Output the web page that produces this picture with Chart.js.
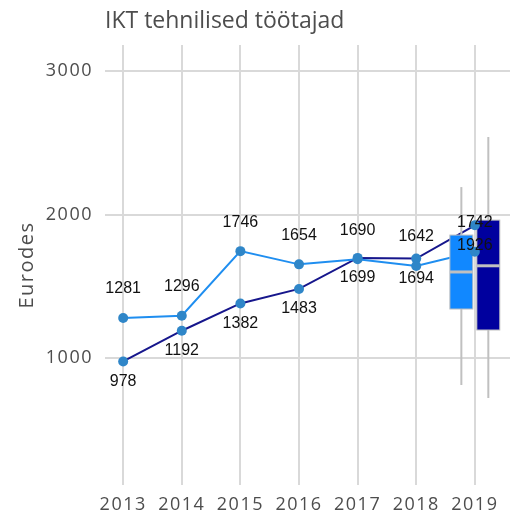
<!DOCTYPE html>
<html>
<head>
<meta charset="utf-8">
<script src="https://cdn.jsdelivr.net/npm/chart.js@4.4.1/dist/chart.umd.min.js"></script>
<style>
html,body{margin:0;padding:0;background:#fff;}
canvas{display:block;}
</style>
</head>
<body>
<canvas id="c" width="510" height="517"></canvas>
<script>
const chartTitle = 'IKT tehnilised töötajad';
const yAxisTitle = 'Eurodes';
const years = [2013, 2014, 2015, 2016, 2017, 2018, 2019];
const lightValues = [1281, 1296, 1746, 1654, 1690, 1642, 1742];
const darkValues = [978, 1192, 1382, 1483, 1699, 1694, 1926];
const yTickValues = [1000, 2000, 3000];
const boxYear = 2019;
// [min, q1, median, q3, max]
const lightBox = [814, 1343, 1601, 1858, 2192];
const darkBox = [724, 1197, 1644, 1962, 2540];

const LIGHT_LINE = '#1f8ef0';
const DARK_LINE = '#16168c';
const POINT_COLOR = '#2f86c8';
const LIGHT_BOX = '#1188ff';
const DARK_BOX = '#00009e';
const GREY = '#c0c0c0';
const GRID = '#d9d9d9';
const TEXT = '#4d4d4d';
const FONT = "'Open Sans', sans-serif";

const toXY = (vals) => years.map((y, i) => ({x: y, y: vals[i]}));

const spacingPlugin = {
  id: 'spacing',
  beforeDraw(chart) { chart.ctx.letterSpacing = '1.5px'; },
  afterDraw(chart) { chart.ctx.letterSpacing = '0px'; }
};

const boxPlugin = {
  id: 'boxes',
  beforeDatasetDraw(chart, args) {
    if (args.index !== 1) return;
    const {ctx, scales: {x, y}} = chart;
    const drawBox = (b, offset, fill) => {
      const cx = x.getPixelForValue(boxYear + offset);
      const half = x.getPixelForValue(boxYear + 0.196) - x.getPixelForValue(boxYear);
      ctx.save();
      ctx.strokeStyle = GREY;
      ctx.lineWidth = 2;
      ctx.beginPath();
      ctx.moveTo(cx, y.getPixelForValue(b[0]));
      ctx.lineTo(cx, y.getPixelForValue(b[4]));
      ctx.stroke();
      const top = y.getPixelForValue(b[3]);
      const bot = y.getPixelForValue(b[1]);
      ctx.fillStyle = fill;
      ctx.fillRect(cx - half, top, 2 * half, bot - top);
      ctx.lineWidth = 1;
      ctx.strokeRect(cx - half, top, 2 * half, bot - top);
      ctx.lineWidth = 3;
      const my = y.getPixelForValue(b[2]);
      ctx.beginPath();
      ctx.moveTo(cx - half, my);
      ctx.lineTo(cx + half, my);
      ctx.stroke();
      ctx.restore();
    };
    drawBox(lightBox, -0.23, LIGHT_BOX);
    drawBox(darkBox, 0.23, DARK_BOX);
  }
};

const labelPlugin = {
  id: 'labels',
  afterDatasetsDraw(chart) {
    const {ctx, scales: {x, y}} = chart;
    ctx.save();
    ctx.letterSpacing = '0px';
    ctx.font = "16px 'Liberation Sans', Arial, sans-serif";
    ctx.fillStyle = '#111';
    ctx.textAlign = 'center';
    ctx.textBaseline = 'middle';
    years.forEach((yr, i) => {
      const px = x.getPixelForValue(yr);
      ctx.fillText(String(lightValues[i]), px, y.getPixelForValue(lightValues[i]) - 29);
      ctx.fillText(String(darkValues[i]), px, y.getPixelForValue(darkValues[i]) + 20);
    });
    ctx.restore();
  }
};

const titlePlugin = {
  id: 'mytitle',
  afterDraw(chart) {
    const {ctx, chartArea} = chart;
    ctx.save();
    ctx.letterSpacing = '0px';
    ctx.font = "23px " + FONT;
    ctx.fillStyle = TEXT;
    ctx.textAlign = 'left';
    ctx.textBaseline = 'alphabetic';
    ctx.fillText(chartTitle, chartArea.left, 28);
    ctx.restore();
  }
};

new Chart(document.getElementById('c'), {
  type: 'line',
  data: {
    datasets: [
      {data: toXY(lightValues), showLine: false, pointRadius: 5, pointBackgroundColor: POINT_COLOR, pointBorderWidth: 0, borderColor: POINT_COLOR},
      {data: toXY(darkValues), showLine: false, pointRadius: 5, pointBackgroundColor: POINT_COLOR, pointBorderWidth: 0, borderColor: POINT_COLOR},
      {data: toXY(lightValues), borderColor: LIGHT_LINE, borderWidth: 2, pointRadius: 0, tension: 0},
      {data: toXY(darkValues), borderColor: DARK_LINE, borderWidth: 2, pointRadius: 0, tension: 0}
    ]
  },
  options: {
    responsive: false,
    animation: false,
    devicePixelRatio: 1,
    layout: {autoPadding: false, padding: {top: 45, right: 0, bottom: 0, left: 0}},
    plugins: {legend: {display: false}, tooltip: {enabled: false}, title: {display: false}},
    scales: {
      x: {
        type: 'linear',
        min: 2012.69,
        max: 2019.6,
        afterBuildTicks: (s) => { s.ticks = years.map(v => ({value: v})); },
        afterFit: (s) => { s.height = 32; s.paddingLeft = 0; s.paddingRight = 0; },
        grid: {color: GRID, lineWidth: 2, drawTicks: false},
        border: {display: false},
        ticks: {padding: 9, color: TEXT, font: {family: FONT, size: 18}, callback: (v) => String(v), maxRotation: 0, autoSkip: false}
      },
      y: {
        type: 'linear',
        min: 118,
        max: 3181,
        afterBuildTicks: (s) => { s.ticks = yTickValues.map(v => ({value: v})); },
        afterFit: (s) => { s.width = 105; s.paddingTop = 0; s.paddingBottom = 0; },
        grid: {color: GRID, lineWidth: 2, drawTicks: false},
        border: {display: false},
        ticks: {padding: 12, color: TEXT, font: {family: FONT, size: 18}, callback: (v) => String(v)},
        title: {display: true, text: yAxisTitle, color: TEXT, font: {family: FONT, size: 20}, padding: {top: 15, bottom: 0}}
      }
    }
  },
  plugins: [spacingPlugin, boxPlugin, labelPlugin, titlePlugin]
});
</script>
</body>
</html>
